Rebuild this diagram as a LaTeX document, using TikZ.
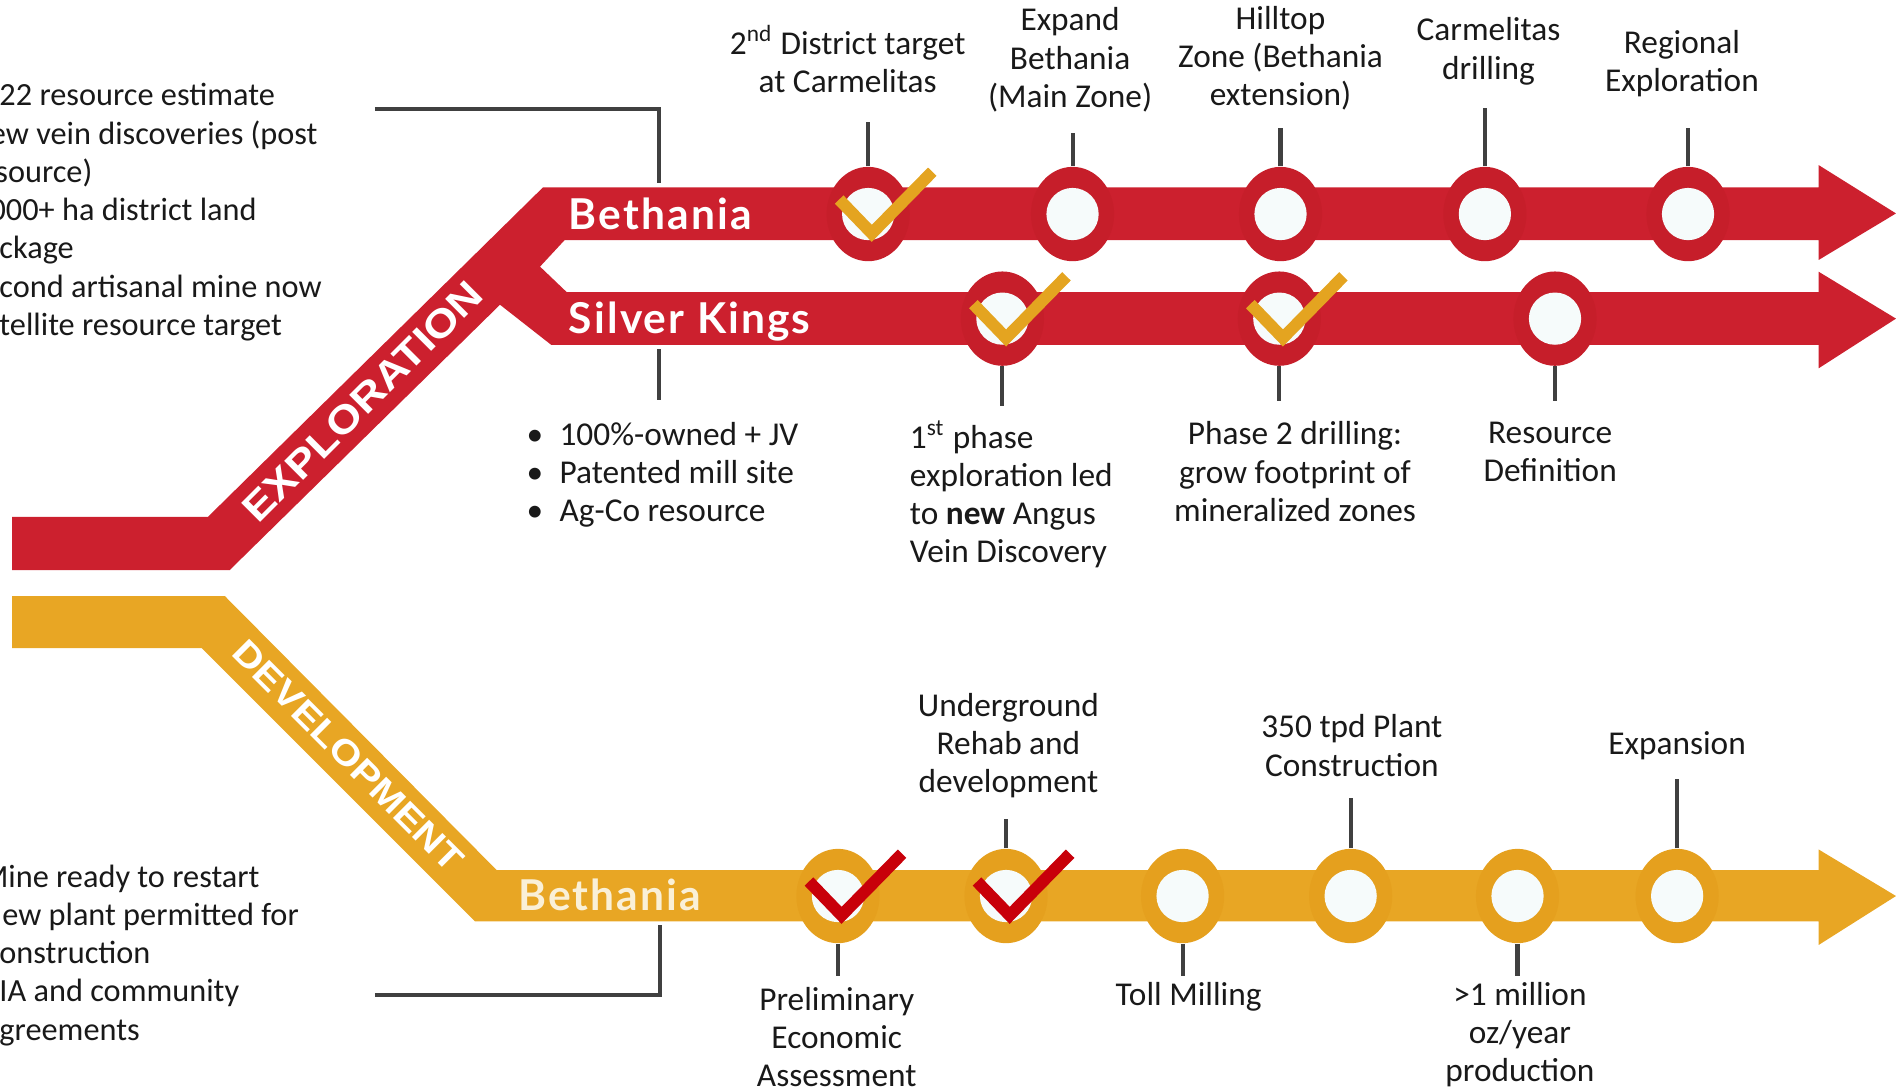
\documentclass[tikz,border=0pt]{standalone}
\usepackage{fontspec}
\setmainfont{Carlito}
\newfontfamily\bandfont{Lato}[LetterSpace=5]
\newfontfamily\phasefont{Liberation Sans}[FakeStretch=1.15]
\usetikzlibrary{shapes.geometric}

\definecolor{exred}{RGB}{204,32,46}
\definecolor{ringred}{RGB}{198,30,42}
\definecolor{devgold}{RGB}{232,166,36}
\definecolor{ringgold}{RGB}{229,160,30}
\definecolor{checkgold}{RGB}{228,164,32}
\definecolor{checkred}{RGB}{200,0,10}
\definecolor{tickgrey}{RGB}{64,64,64}
\definecolor{inkblack}{RGB}{25,25,25}
\definecolor{devlabel}{RGB}{250,240,215}
\definecolor{holewhite}{RGB}{246,251,251}

\newcommand\notesize{\fontsize{9.8}{11.25}\selectfont}
\newcommand\sidesize{\fontsize{9.5}{11.25}\selectfont}

\begin{document}
\begin{tikzpicture}[x=0.0125cm,y=-0.0125cm,
	exring/.style={ellipse,fill=ringred,minimum width=0.86cm,minimum height=0.975cm,inner sep=0pt,
		path picture={\fill[holewhite] (path picture bounding box.center) circle (0.27cm);}},
	devring/.style={exring,fill=ringgold},
	tick/.style={draw=tickgrey,line width=1.2pt},
	goldcheck/.style={draw=checkgold,line width=3.5pt},
	redcheck/.style={draw=checkred,line width=3.5pt},
	note/.style={font=\notesize,text=inkblack,align=center,inner sep=0pt},
	side/.style={font=\sidesize,text=inkblack,align=left,anchor=west,inner sep=0pt},
	band/.style={font=\bandfont\fontsize{12.5}{14}\selectfont\bfseries,text=white,anchor=base west,inner sep=0pt},
	phase/.style={text=white,inner sep=0pt}]

		\useasboundingbox (0,0) rectangle (1568,902);

		%bands
		\fill[exred] (10,427.4) -- (172,427.4) -- (449,155) -- (1504,155) -- (1504,136.5) -- (1568,176.5)
			-- (1504,215) -- (1504,198.5) -- (467,198.5) -- (446.6,220.5) -- (468.6,241.5) -- (1504,241.5)
			-- (1504,224.7) -- (1568,263.5) -- (1504,304.6) -- (1504,285.3) -- (456,285.3) -- (413.5,252)
			-- (190,471.4) -- (10,471.4) -- cycle;
		\fill[devgold] (10,493) -- (186,493) -- (410.7,719.5) -- (1504,719.5) -- (1504,702.5) -- (1568,741)
			-- (1504,781.5) -- (1504,762) -- (392.8,762) -- (166.8,536) -- (10,536) -- cycle;

		%band labels
		\node[phase,rotate=45,font=\phasefont\fontsize{11.5}{13}\selectfont\bfseries] (explore) at (300,332) {EXPLORATION};
		\node[phase,rotate=-45,font=\phasefont\fontsize{10.4}{12}\selectfont\bfseries] (develop) at (288,625) {DEVELOPMENT};
		\node[band] (bethex) at (470,190) {Bethania};
		\node[band] (silver) at (470,276) {Silver Kings};
		\node[band,text=devlabel] (bethdev) at (428,753) {Bethania};

		%bethania stops
		\node[exring] (e1) at (718,177) {};
		\node[exring] (e2) at (887,177) {};
		\node[exring] (e3) at (1059,177) {};
		\node[exring] (e4) at (1228,177) {};
		\node[exring] (e5) at (1396,177) {};

		%silver kings stops
		\node[exring] (s1) at (829,263.5) {};
		\node[exring] (s2) at (1058,263.5) {};
		\node[exring] (s3) at (1286,263.5) {};

		%development stops
		\node[devring] (d1) at (693,741) {};
		\node[devring] (d2) at (832,741) {};
		\node[devring] (d3) at (978,741) {};
		\node[devring] (d4) at (1117,741) {};
		\node[devring] (d5) at (1255,741) {};
		\node[devring] (d6) at (1387,741) {};

		%ticks
		\foreach \n/\y in {e1/101,e2/110,e3/106,e4/89,e5/106,d2/677,d4/660,d6/644}
			\draw[tick] (\n.north) -- (\n.north |- 0,\y);
		\foreach \n/\y in {s1/336,s2/332,s3/332,d1/807,d3/807,d5/807}
			\draw[tick] (\n.south) -- (\n.south |- 0,\y);

		%checks
		\foreach \n in {e1,s1,s2}
			\draw[goldcheck] ([shift={(-24,-12)}]\n.center) -- ([shift={(3,16)}]\n.center) -- ([shift={(53,-35)}]\n.center);
		\foreach \n in {d1,d2}
			\draw[redcheck] ([shift={(-24,-12)}]\n.center) -- ([shift={(3,16)}]\n.center) -- ([shift={(53,-35)}]\n.center);

		%top labels
		\node[note] (l1) at (701,49) {2\textsuperscript{nd} District target\\at Carmelitas};
		\node[note] (l2) at (885,49.5) {Expand\\Bethania\\(Main Zone)};
		\node[note] (l3) at (1059,48) {Hilltop\\Zone (Bethania\\extension)};
		\node[note] (l4) at (1231,42.5) {Carmelitas\\drilling};
		\node[note] (l5) at (1391,52.5) {Regional\\Exploration};

		%silver kings labels
		\node[note,align=left,anchor=west] (sknotes) at (435,392.5)
			{\makebox[0.34cm][l]{\textbullet}100\%-owned + JV\\\makebox[0.34cm][l]{\textbullet}Patented mill site\\\makebox[0.34cm][l]{\textbullet}Ag-Co resource};
		\node[note,align=left,anchor=west] (l6) at (752,409) {1\textsuperscript{st} phase\\exploration led\\to \textbf{new} Angus\\Vein Discovery};
		\node[note] (l7) at (1071,390) {Phase 2 drilling:\\grow footprint of\\mineralized zones};
		\node[note] (l8) at (1282,373.5) {Resource\\Definition};

		%development labels
		\node[note] (m1) at (834,616.5) {Underground\\Rehab and\\development};
		\node[note] (m2) at (1118,616.5) {350 tpd Plant\\Construction};
		\node[note] (m3) at (1387,617) {Expansion};
		\node[note] (m4) at (692,857.5) {Preliminary\\Economic\\Assessment};
		\node[note] (m5) at (983,824) {Toll Milling};
		\node[note] (m6) at (1257,855.5) {>1 million\\oz/year\\production};

		%left notes
		\node[side] (exnotes) at (-1,175.5)
			{22 resource estimate\\\hspace*{-2.8pt}ew vein discoveries (post\\\hspace*{-1.2pt}source)\\\hspace*{-2.9pt}000+ ha district land\\ckage\\cond artisanal mine now\\tellite resource target};
		\node[side] (devnotes) at (-1,790)
			{\hspace*{-5.5pt}Mine ready to restart\\\hspace*{-5.3pt}New plant permitted for\\onstruction\\IA and community\\greements};

		%brackets
		\coordinate (exbr) at (310,90);
		\coordinate (exjoin) at (545,151);
		\coordinate (skjoin) at (545,289);
		\coordinate (skbr) at (545,331);
		\coordinate (devbr) at (310,823);
		\coordinate (devjoin) at (546,765);
		\draw[tick] (exbr) -| (exjoin);
		\draw[tick] (skjoin) -- (skbr);
		\draw[tick] (devbr) -| (devjoin);

\end{tikzpicture}
\end{document}
